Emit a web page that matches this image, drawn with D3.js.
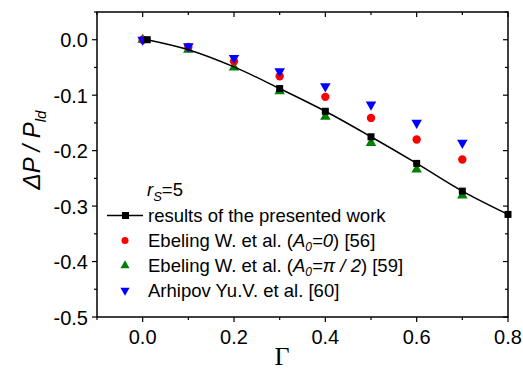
<!DOCTYPE html>
<html><head><meta charset="utf-8">
<script src="https://cdn.jsdelivr.net/npm/d3@7"></script>
<style>
body{margin:0;background:#fff;}
svg{display:block;font-family:"Liberation Sans",Arial,sans-serif;}
</style></head>
<body><svg id="c" width="523" height="371"></svg>
<script>
// curve of the presented work
const gammaRes = [0.01,0.1,0.2,0.3,0.4,0.5,0.6,0.7,0.8];
const resWork  = [0,-0.018,-0.049,-0.088,-0.129,-0.175,-0.223,-0.273,-0.315];
// Γ values where the square markers are visible
const gammaResMarkers = [0.01,0.3,0.4,0.5,0.6,0.7,0.8];
const gammaLit = [0,0.1,0.2,0.3,0.4,0.5,0.6,0.7];
const ebeling0  = [0,-0.013,-0.039,-0.066,-0.103,-0.141,-0.180,-0.216];
const ebelingPi = [0,-0.018,-0.050,-0.093,-0.139,-0.186,-0.234,-0.281];
const arhipov   = [0,-0.012,-0.033,-0.057,-0.084,-0.117,-0.150,-0.186];
const xTicks = [0,0.2,0.4,0.6,0.8];
const yTicks = [0,-0.1,-0.2,-0.3,-0.4,-0.5];

const svg = d3.select("#c");
const L=97,R=508,T=12,B=317;
const x = d3.scaleLinear().domain([-0.1,0.8]).range([L,R]);
const y = d3.scaleLinear().domain([-0.5,0.05]).range([B,T]);

// frame
svg.append("rect").attr("x",L).attr("y",T).attr("width",R-L).attr("height",B-T)
  .attr("fill","none").attr("stroke","#000").attr("stroke-width",1.5);

// ticks
const xMinor = d3.range(-0.1,0.801,0.1).map(v=>+v.toFixed(2));
const yMinor = d3.range(-0.5,0.051,0.05).map(v=>+v.toFixed(2));
const isMajorX = v=>xTicks.some(t=>Math.abs(t-v)<1e-6);
const isMajorY = v=>yTicks.some(t=>Math.abs(t-v)<1e-6);
const g = svg.append("g").attr("stroke","#000").attr("stroke-width",1.2);
xMinor.forEach(v=>{
  const len = isMajorX(v)?5:3;
  g.append("line").attr("x1",x(v)).attr("x2",x(v)).attr("y1",B).attr("y2",B+len);
  g.append("line").attr("x1",x(v)).attr("x2",x(v)).attr("y1",T).attr("y2",T+len);
});
yMinor.forEach(v=>{
  const len = isMajorY(v)?5:3;
  g.append("line").attr("y1",y(v)).attr("y2",y(v)).attr("x1",L).attr("x2",L-len);
  g.append("line").attr("y1",y(v)).attr("y2",y(v)).attr("x1",R).attr("x2",R-len);
});
xTicks.forEach(v=>{
  svg.append("text").attr("x",x(v)).attr("y",B+27).attr("text-anchor","middle")
    .attr("font-size",20).text(v.toFixed(1));
});
yTicks.forEach(v=>{
  svg.append("text").attr("x",L-9).attr("y",y(v)+7.5).attr("text-anchor","end")
    .attr("font-size",20).text(v.toFixed(1));
});

// axis labels
const yl = svg.append("text").attr("transform","translate(40,150) rotate(-90)")
  .attr("text-anchor","middle").attr("font-size",24).attr("font-style","italic");
yl.append("tspan").text("ΔP / P");
yl.append("tspan").attr("font-size",15).attr("dy",6).text("ld");
svg.append("text").attr("x",282).attr("y",365).attr("text-anchor","middle")
  .attr("font-size",26).attr("font-family","'Liberation Serif',serif").text("Γ");

// markers
const tri = d3.symbol().type(d3.symbolTriangle).size(48);
function drawTri(data, color, down){
  svg.append("g").selectAll("path").data(data).join("path")
    .attr("d",tri).attr("fill",color)
    .attr("transform",d=>`translate(${x(d[0])},${y(d[1])}) rotate(${down?180:0})`);
}
drawTri(gammaLit.map((g,i)=>[g,ebelingPi[i]]),"#008000",false);
svg.append("g").selectAll("circle").data(gammaLit.map((g,i)=>[g,ebeling0[i]])).join("circle")
  .attr("cx",d=>x(d[0])).attr("cy",d=>y(d[1])).attr("r",4.2).attr("fill","#ff0000");
drawTri(gammaLit.map((g,i)=>[g,arhipov[i]]),"#0000ff",true);

const resPts = gammaRes.map((g,i)=>[g,resWork[i]]);
svg.append("path").datum(resPts)
  .attr("d",d3.line().x(d=>x(d[0])).y(d=>y(d[1])).curve(d3.curveMonotoneX))
  .attr("fill","none").attr("stroke","#000").attr("stroke-width",1.5);
const markPts = resPts.filter(d=>gammaResMarkers.some(m=>Math.abs(m-d[0])<1e-6));
svg.append("g").selectAll("rect").data(markPts).join("rect")
  .attr("x",d=>x(d[0])-3.5).attr("y",d=>y(d[1])-3.5).attr("width",7).attr("height",7).attr("fill","#000");

// legend
const lg = svg.append("g").attr("font-size",18.5);
const rs = lg.append("text").attr("x",147).attr("y",196).attr("font-style","italic");
rs.append("tspan").text("r");
rs.append("tspan").attr("font-size",13).attr("dy",5).text("S");
rs.append("tspan").attr("font-style","normal").attr("dy",-5).text("=5");
const rows = [222,247,272,297];
lg.append("line").attr("x1",107).attr("x2",143).attr("y1",rows[0]-6.5).attr("y2",rows[0]-6.5)
  .attr("stroke","#000").attr("stroke-width",1.5);
lg.append("rect").attr("x",122).attr("y",rows[0]-10).attr("width",7).attr("height",7).attr("fill","#000");
lg.append("text").attr("x",148).attr("y",rows[0]).text("results of the presented work");
lg.append("circle").attr("cx",125).attr("cy",rows[1]-6.5).attr("r",3.5).attr("fill","#ff0000");
const t1 = lg.append("text").attr("x",148).attr("y",rows[1]);
t1.append("tspan").text("Ebeling W. et al. (");
t1.append("tspan").attr("font-style","italic").text("A");
t1.append("tspan").attr("font-style","italic").attr("font-size",12).attr("dy",4).text("0");
t1.append("tspan").attr("font-style","italic").attr("dy",-4).text("=0");
t1.append("tspan").text(") [56]");
lg.append("path").attr("d",d3.symbol().type(d3.symbolTriangle).size(36))
  .attr("transform",`translate(125,${rows[2]-6.5})`).attr("fill","#008000");
const t2 = lg.append("text").attr("x",148).attr("y",rows[2]);
t2.append("tspan").text("Ebeling W. et al. (");
t2.append("tspan").attr("font-style","italic").text("A");
t2.append("tspan").attr("font-style","italic").attr("font-size",12).attr("dy",4).text("0");
t2.append("tspan").attr("font-style","italic").attr("dy",-4).text("=π / 2");
t2.append("tspan").text(") [59]");
lg.append("path").attr("d",d3.symbol().type(d3.symbolTriangle).size(36))
  .attr("transform",`translate(125,${rows[3]-6.5}) rotate(180)`).attr("fill","#0000ff");
lg.append("text").attr("x",148).attr("y",rows[3]).text("Arhipov Yu.V. et al. [60]");
</script></body></html>
